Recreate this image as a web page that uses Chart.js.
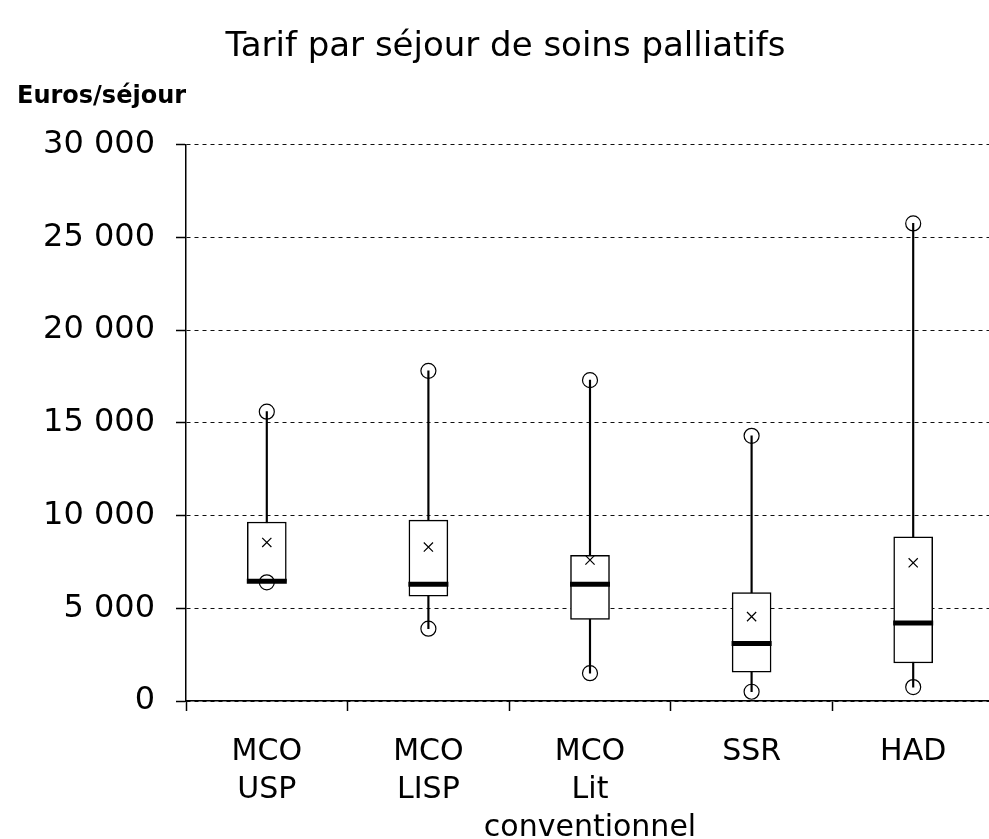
<!DOCTYPE html>
<html lang="fr">
<head>
    <meta charset="UTF-8">
    <title>Tarif par séjour de soins palliatifs</title>
    <script src="https://cdn.jsdelivr.net/npm/chart.js@4"></script>
    <style>
        html, body { margin: 0; padding: 0; overflow: hidden; background: #fff; }
    </style>
</head>
<body>
    <canvas id="myChart" width="995" height="839"></canvas>
</body>
<script>
    // values (euros / séjour)
    var categories = [['MCO', 'USP'], ['MCO', 'LISP'], ['MCO', 'Lit', 'conventionnel'], ['SSR'], ['HAD']];
    var minValues = [6400, 3900, 1500, 500, 750];
    var q1Values = [6450, 5650, 4400, 1550, 2050];
    var medianValues = [6450, 6300, 6300, 3100, 4200];
    var q3Values = [9650, 9750, 7850, 5850, 8850];
    var maxValues = [15600, 17800, 17300, 14300, 25750];
    var meanValues = [8550, 8300, 7600, 4550, 7450];
    var yTickLabels = ['0', '5 000', '10 000', '15 000', '20 000', '25 000', '30 000'];

    Chart.defaults.color = '#000';
    Chart.defaults.font.family = '"DejaVu Sans", sans-serif';

    var ctx = document.getElementById('myChart').getContext('2d');
    var chart = new Chart(ctx, {
        type: 'bar',
        data: {
            labels: categories,
            datasets: [{
                type: 'line',
                label: 'Min',
                data: minValues,
                showLine: false,
                pointStyle: 'circle',
                pointRadius: 7.5,
                pointBorderWidth: 1.2,
                pointBorderColor: '#000',
                pointBackgroundColor: 'rgba(0,0,0,0)',
                order: 0
            }, {
                type: 'line',
                label: 'Max',
                data: maxValues,
                showLine: false,
                pointStyle: 'circle',
                pointRadius: 7.5,
                pointBorderWidth: 1.2,
                pointBorderColor: '#000',
                pointBackgroundColor: 'rgba(0,0,0,0)',
                order: 0
            }, {
                type: 'line',
                label: 'Moyenne',
                data: meanValues,
                showLine: false,
                pointStyle: 'crossRot',
                pointRadius: 6.5,
                pointBorderWidth: 1.2,
                pointBorderColor: '#000',
                order: 0
            }, {
                type: 'line',
                label: 'Médiane',
                data: medianValues,
                showLine: false,
                pointStyle: 'line',
                pointRadius: 20,
                pointBorderWidth: 5,
                pointBorderColor: '#000',
                order: 1
            }, {
                label: 'Boîte',
                data: q1Values.map((v, i) => [v, q3Values[i]]),
                backgroundColor: '#fff',
                borderColor: '#000',
                borderWidth: 1.5,
                borderSkipped: false,
                barThickness: 39,
                grouped: false,
                order: 2
            }, {
                label: 'Moustaches',
                data: minValues.map((v, i) => [v, maxValues[i]]),
                backgroundColor: '#000',
                borderWidth: 0,
                barThickness: 1.5,
                grouped: false,
                order: 3
            }]
        },
        options: {
            responsive: false,
            animation: false,
            events: [],
            layout: { autoPadding: false, padding: { left: 17, right: 1, top: 0, bottom: 0 } },
            plugins: {
                legend: { display: false },
                tooltip: { enabled: false },
                title: {
                    display: true,
                    text: 'Tarif par séjour de soins palliatifs',
                    font: { size: 34, weight: 'normal', lineHeight: 1.2 },
                    padding: { top: 27, bottom: 15 }
                },
                subtitle: {
                    display: true,
                    text: 'Euros/séjour',
                    align: 'start',
                    font: { size: 24, weight: 'bold', lineHeight: 1.2 },
                    padding: { top: 0, bottom: 33 }
                }
            },
            scales: {
                x: {
                    offset: true,
                    grid: {
                        offset: true,
                        drawOnChartArea: false,
                        drawTicks: true,
                        tickLength: 10,
                        tickColor: '#000',
                        tickWidth: 1.5
                    },
                    border: { display: true, color: '#000', width: 1.5 },
                    ticks: {
                        padding: 22,
                        maxRotation: 0,
                        autoSkip: false,
                        font: { size: 30, lineHeight: 1.27 }
                    },
                    afterFit: function (scale) { scale.height = 138; }
                },
                y: {
                    min: 0,
                    max: 30000,
                    grid: {
                        color: '#111',
                        lineWidth: 1,
                        tickBorderDash: [],
                        drawTicks: true,
                        tickLength: 10,
                        tickColor: '#000',
                        tickWidth: 1.5
                    },
                    border: { display: true, color: '#000', width: 1.5, dash: [4, 4] },
                    ticks: {
                        stepSize: 5000,
                        padding: 21,
                        font: { size: 32 },
                        callback: function (value, index) { return yTickLabels[index]; }
                    },
                    afterFit: function (scale) { scale.width = 169; }
                }
            }
        }
    });
</script>
</html>
